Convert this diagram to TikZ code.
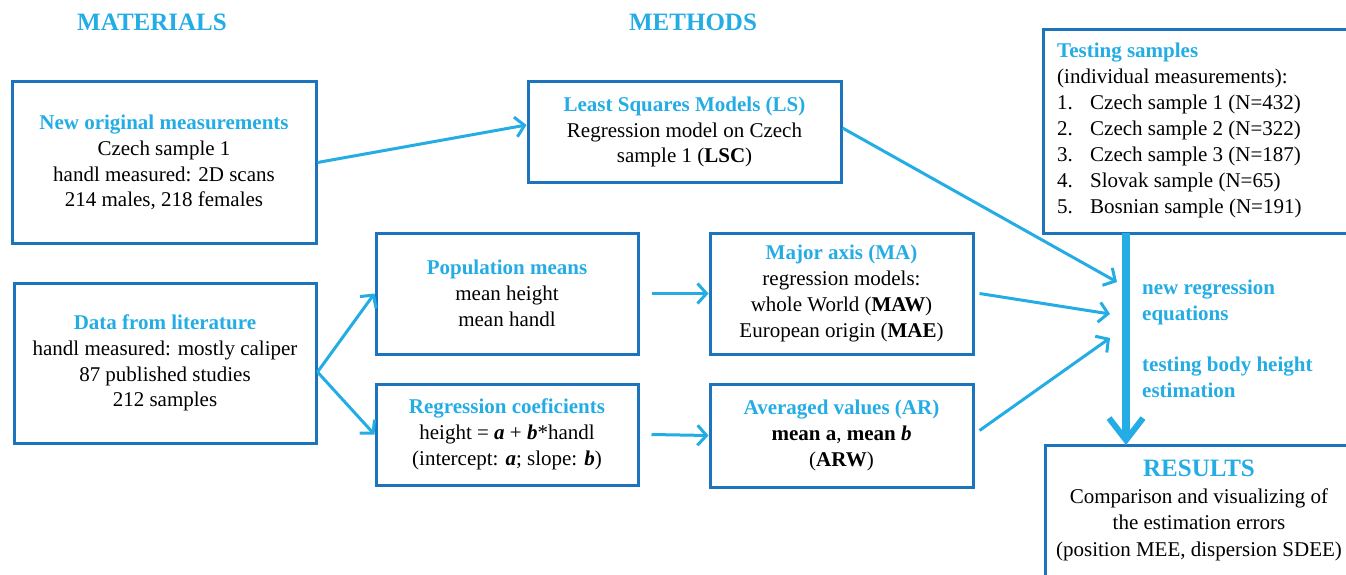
\documentclass[tikz,border=0pt]{standalone}
\usepackage{fontspec}
\setmainfont{Liberation Serif}
\usetikzlibrary{arrows.meta}
\definecolor{boxblue}{RGB}{28,117,188}
\definecolor{cyanA}{RGB}{36,172,228}
\newcommand{\hdr}[1]{\textcolor{cyanA}{\textbf{#1}}}
\tikzset{
  box/.style={draw=boxblue, line width=3pt, align=center, inner sep=0pt,
    font=\fontsize{21}{25.8}\selectfont},
  conn/.style={draw=cyanA, line width=3pt, -{Straight Barb[length=9pt,width=20pt,line width=3pt]}},
  big/.style={draw=cyanA, line width=8pt, -{Straight Barb[length=22pt,width=34pt,line width=6pt]}},
  headtxt/.style={font=\fontsize{25}{29}\selectfont\bfseries, text=cyanA},
  lbl/.style={font=\fontsize{21}{26}\selectfont\bfseries, text=cyanA, align=left, inner sep=0pt, anchor=north west}
}
\begin{document}
\begin{tikzpicture}[x=1pt,y=-1pt]
\useasboundingbox (0,0) rectangle (1346,575);
\clip (0,0) rectangle (1346,575);
\node[headtxt] (mat) at (152,22) {MATERIALS};
\node[headtxt] (met) at (693,22) {METHODS};

\node[box, minimum width=304pt, minimum height=161pt] (orig) at (164,162.5)
  {\hdr{New original measurements}\\Czech sample 1\\handl measured: 2D scans\\214 males, 218 females};
\node[box, minimum width=302pt, minimum height=160pt] (lit) at (165,363)
  {\hdr{Data from literature}\\handl measured: mostly caliper\\87 published studies\\212 samples};
\node[box, minimum width=313pt, minimum height=100pt] (ls) at (684.5,132)
  {\hdr{Least Squares Models (LS)}\\Regression model on Czech\\sample 1 (\textbf{LSC})};
\node[box, minimum width=262pt, minimum height=121pt] (pop) at (507,293.5)
  {\hdr{Population means}\\mean height\\mean handl};
\node[box, minimum width=262pt, minimum height=101pt] (reg) at (507,434.5)
  {\hdr{Regression coeficients}\\height = \textbf{\textit{a}} + \textbf{\textit{b}}*handl\\(intercept: \textbf{\textit{a}}; slope: \textbf{\textit{b}})};
\node[box, minimum width=263pt, minimum height=121pt] (ma) at (841.5,293.5)
  {\hdr{Major axis (MA)}\\regression models:\\whole World (\textbf{MAW})\\European origin (\textbf{MAE})};
\node[box, minimum width=263pt, minimum height=103pt] (ar) at (841.5,435.5)
  {\hdr{Averaged values (AR)}\\\textbf{mean a}, \textbf{mean \textit{b}}\\(\textbf{ARW})};

\node[box, minimum width=327pt, minimum height=203pt] (test) at (1206.5,131.5) {};
\node[font=\fontsize{21}{26}\selectfont, align=left, inner sep=0pt, anchor=north west] (testtxt) at (1057,43)
  {\hdr{Testing samples}\\(individual measurements):\\
   \makebox[33pt][l]{1.}Czech sample 1 (N=432)\\
   \makebox[33pt][l]{2.}Czech sample 2 (N=322)\\
   \makebox[33pt][l]{3.}Czech sample 3 (N=187)\\
   \makebox[33pt][l]{4.}Slovak sample (N=65)\\
   \makebox[33pt][l]{5.}Bosnian sample (N=191)};

\node[box, minimum width=325pt, minimum height=155pt] (res) at (1207.5,522.5) {};
\node[font=\fontsize{21}{26.5}\selectfont, align=center, inner sep=0pt, anchor=north] (restxt) at (1199,460)
  {{\fontsize{25}{28}\selectfont\hdr{RESULTS}}\\Comparison and visualizing of\\the estimation errors\\(position MEE, dispersion SDEE)};

\coordinate (e1) at (1117,282);
\coordinate (e2) at (1110,314);
\coordinate (e3) at (1110,338);
\coordinate (tb) at (1126,233);
\coordinate (rt) at (1126,445);

\draw[conn] (orig.east) -- ([yshift=7pt]ls.west);
\draw[conn] ([yshift=-9pt]lit.east) -- (pop.west);
\draw[conn] ([yshift=-9pt]lit.east) -- (reg.west);
\draw[conn] ([xshift=12pt]pop.east) -- (ma.west);
\draw[conn] ([xshift=12pt]reg.east) -- (ar.west);
\draw[conn] ([yshift=4pt]ls.east) -- (e1);
\draw[conn] ([xshift=5pt]ma.east) -- (e2);
\draw[conn] ([xshift=5pt,yshift=5pt]ar.east) -- (e3);
\draw[big] (tb) -- (rt);

\node[lbl] (l1) at (1142,280) {new regression\\equations};
\node[lbl] (l2) at (1142,357) {testing body height\\estimation};
\end{tikzpicture}
\end{document}
